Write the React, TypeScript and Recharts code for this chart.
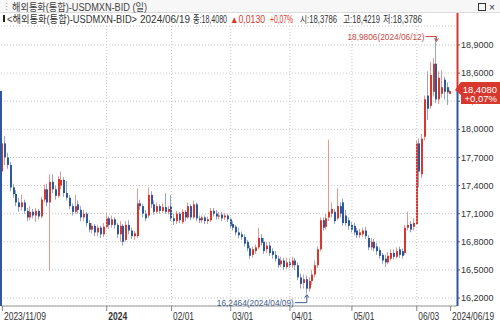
import { ComposedChart, Bar, XAxis, YAxis, CartesianGrid, ReferenceLine, ReferenceDot } from "recharts"

// daily USDMXN bid candles, 2023/11/09 .. 2024/06/19 (weekdays)
function tradingDays(from: string, to: string) {
  const out: string[] = []
  const d = new Date(from + "T00:00:00Z")
  const end = new Date(to + "T00:00:00Z")
  while (d <= end) {
    const wd = d.getUTCDay()
    if (wd !== 0 && wd !== 6) {
      const m = String(d.getUTCMonth() + 1).padStart(2, "0")
      const dd = String(d.getUTCDate()).padStart(2, "0")
      out.push(`${d.getUTCFullYear()}/${m}/${dd}`)
    }
    d.setUTCDate(d.getUTCDate() + 1)
  }
  return out
}

const dates = tradingDays("2023-11-09", "2024-06-19")

const open = [
  17.55, 17.85, 17.70, 17.62, 17.38, 17.31, 17.22, 17.17, 17.22, 17.13,
  17.06, 17.12, 17.08, 17.13, 17.07, 17.25, 17.36, 17.22, 17.44, 17.36,
  17.29, 17.40, 17.46, 17.32, 17.27, 17.18, 17.12, 17.20, 17.14, 17.06,
  17.10, 17.00, 16.93, 16.97, 16.90, 16.95, 16.88, 16.96, 17.05, 16.98,
  17.04, 16.98, 16.88, 16.97, 16.82, 16.98, 16.92, 16.86, 16.86, 17.21,
  17.18, 17.10, 17.08, 17.30, 17.20, 17.12, 17.18, 17.13, 17.17, 17.12,
  17.18, 17.05, 17.02, 17.10, 17.01, 17.12, 17.06, 17.18, 17.06, 17.20,
  17.05, 17.03, 17.06, 17.02, 17.03, 17.13, 17.10, 17.07, 17.09, 17.06,
  17.08, 17.04, 16.99, 16.96, 16.90, 16.88, 16.85, 16.80, 16.73, 16.66,
  16.70, 16.74, 16.84, 16.80, 16.72, 16.76, 16.70, 16.66, 16.62, 16.56,
  16.60, 16.53, 16.58, 16.55, 16.60, 16.55, 16.42, 16.36, 16.40, 16.30,
  16.38, 16.45, 16.55, 16.72, 17.03, 16.96, 17.06, 17.10, 17.12, 17.05,
  17.18, 17.22, 17.08, 17.03, 16.98, 16.97, 16.92, 16.87, 16.88, 16.92,
  16.84, 16.74, 16.80, 16.75, 16.71, 16.66, 16.62, 16.58, 16.62, 16.68,
  16.64, 16.72, 16.70, 16.68, 16.95, 16.99, 16.96, 16.99, 17.85, 17.52,
  17.92, 18.36, 18.25, 18.40, 18.70, 18.32, 18.38, 18.53, 18.45, 18.3786,
]
const high = [
  17.90, 17.93, 17.75, 17.65, 17.42, 17.35, 17.27, 17.30, 17.25, 17.16,
  17.18, 17.15, 17.16, 17.15, 17.28, 17.41, 17.42, 17.52, 17.52, 17.40,
  17.50, 17.55, 17.49, 17.45, 17.30, 17.21, 17.30, 17.24, 17.18, 17.14,
  17.12, 17.03, 17.00, 16.99, 16.98, 16.97, 17.00, 17.11, 17.07, 17.08,
  17.06, 17.00, 17.02, 16.99, 17.02, 17.03, 16.95, 16.92, 17.37, 17.25,
  17.20, 17.14, 17.38, 17.34, 17.24, 17.22, 17.20, 17.21, 17.32, 17.18,
  17.30, 17.10, 17.13, 17.12, 17.15, 17.14, 17.22, 17.20, 17.24, 17.22,
  17.08, 17.08, 17.08, 17.07, 17.16, 17.16, 17.14, 17.12, 17.12, 17.11,
  17.10, 17.06, 17.02, 16.98, 16.95, 16.91, 16.88, 16.82, 16.76, 16.75,
  16.77, 16.95, 16.88, 16.84, 16.80, 16.80, 16.73, 16.70, 16.65, 16.64,
  16.63, 16.63, 16.62, 16.64, 16.63, 16.58, 16.46, 16.45, 16.44, 16.42,
  16.50, 16.60, 16.75, 17.06, 17.06, 17.10, 17.89, 17.22, 17.15, 17.37,
  17.22, 17.26, 17.14, 17.06, 17.01, 17.00, 16.95, 16.94, 16.95, 16.96,
  16.87, 16.84, 16.83, 16.79, 16.74, 16.68, 16.66, 16.69, 16.72, 16.72,
  16.74, 16.75, 16.73, 16.98, 17.12, 17.02, 17.05, 17.88, 17.90, 17.95,
  18.36, 18.62, 18.72, 18.76, 18.9806, 18.62, 18.63, 18.56, 18.50, 18.4219,
]
const low = [
  17.48, 17.62, 17.58, 17.34, 17.27, 17.18, 17.12, 17.13, 17.10, 17.02,
  17.03, 17.05, 17.01, 17.04, 17.05, 17.22, 17.18, 16.49, 17.32, 17.25,
  17.27, 17.36, 17.28, 17.24, 17.15, 17.08, 17.10, 17.10, 17.02, 17.02,
  16.96, 16.90, 16.89, 16.86, 16.86, 16.84, 16.85, 16.94, 16.94, 16.95,
  16.94, 16.84, 16.80, 16.76, 16.80, 16.88, 16.83, 16.82, 16.84, 17.14,
  17.06, 17.02, 17.05, 17.16, 17.09, 17.10, 17.10, 17.11, 17.10, 17.09,
  17.02, 16.98, 16.99, 17.00, 16.99, 17.02, 17.04, 17.03, 17.04, 17.02,
  17.00, 17.00, 16.99, 16.99, 17.01, 17.07, 17.04, 17.04, 17.02, 17.03,
  17.01, 16.94, 16.92, 16.87, 16.84, 16.82, 16.75, 16.70, 16.62, 16.63,
  16.67, 16.72, 16.76, 16.67, 16.68, 16.65, 16.62, 16.59, 16.52, 16.53,
  16.50, 16.51, 16.52, 16.52, 16.50, 16.39, 16.30, 16.30, 16.2464, 16.27,
  16.34, 16.42, 16.52, 16.70, 16.92, 16.93, 17.02, 17.06, 16.99, 17.03,
  17.06, 16.97, 16.97, 16.93, 16.90, 16.87, 16.84, 16.84, 16.85, 16.83,
  16.71, 16.71, 16.70, 16.66, 16.62, 16.56, 16.53, 16.56, 16.60, 16.61,
  16.62, 16.63, 16.62, 16.66, 16.92, 16.90, 16.92, 16.98, 17.38, 17.48,
  17.88, 18.10, 18.22, 18.35, 18.28, 18.27, 18.34, 18.32, 18.26, 18.3786,
]
const close = [
  17.85, 17.70, 17.62, 17.38, 17.31, 17.22, 17.17, 17.22, 17.13, 17.06,
  17.12, 17.08, 17.13, 17.07, 17.25, 17.36, 17.22, 17.44, 17.36, 17.29,
  17.47, 17.46, 17.32, 17.27, 17.18, 17.12, 17.18, 17.14, 17.06, 17.10,
  17.00, 16.93, 16.97, 16.90, 16.95, 16.88, 16.96, 17.05, 16.98, 17.04,
  16.98, 16.88, 16.97, 16.80, 16.98, 16.92, 16.86, 16.89, 17.21, 17.18,
  17.10, 17.05, 17.30, 17.20, 17.12, 17.18, 17.13, 17.17, 17.12, 17.15,
  17.05, 17.02, 17.10, 17.03, 17.12, 17.06, 17.18, 17.06, 17.20, 17.05,
  17.03, 17.06, 17.02, 17.04, 17.13, 17.10, 17.07, 17.08, 17.05, 17.08,
  17.04, 16.97, 16.95, 16.90, 16.87, 16.85, 16.78, 16.73, 16.65, 16.72,
  16.74, 16.84, 16.79, 16.70, 16.76, 16.68, 16.66, 16.62, 16.55, 16.60,
  16.53, 16.58, 16.55, 16.60, 16.55, 16.42, 16.35, 16.40, 16.30, 16.38,
  16.45, 16.55, 16.72, 17.03, 16.95, 17.05, 17.12, 17.15, 17.02, 17.18,
  17.10, 17.00, 17.00, 16.97, 16.93, 16.90, 16.87, 16.90, 16.92, 16.86,
  16.74, 16.80, 16.73, 16.70, 16.65, 16.60, 16.58, 16.65, 16.68, 16.64,
  16.70, 16.66, 16.65, 16.95, 16.98, 16.93, 17.00, 17.85, 17.55, 17.90,
  18.32, 18.22, 18.58, 18.70, 18.32, 18.55, 18.45, 18.40, 18.395, 18.408,
]

const xTicks = ["2023/11/09", "2024/01/01", "2024/02/01", "2024/03/01", "2024/04/01", "2024/05/01", "2024/06/03", "2024/06/19"]
const xTickLabels = ["2023/11/09", "2024", "02/01", "03/01", "04/01", "05/01", "06/03", "2024/06/19"]
const gridDates = ["2024/01/01", "2024/02/01", "2024/03/01", "2024/04/01", "2024/05/01", "2024/06/03"]
const yTicks = [16.2, 16.5, 16.8, 17.1, 17.4, 17.7, 18.0, 18.3, 18.6, 18.9]

const highMark = { date: "2024/06/12", value: 18.9806 }
const lowMark = { date: "2024/04/09", value: 16.2464 }

const Y_MIN = 16.1145
const Y_MAX = 19.1028

const W = 500
const H = 325
const PLOT_RIGHT = 457
const PLOT_BOTTOM = 306

const RED = "#d7372c"
const RED_WICK = "#e49a93"
const BLUE = "#2d579f"
const BLUE_WICK = "#92a6cc"
const GRID = "#c8c8c8"
const TEXT = "#333"
const FONT = "'Liberation Sans', 'Noto Sans CJK KR', sans-serif"

const data = dates.map((date, i) => ({
  date,
  open: open[i],
  high: high[i],
  low: low[i],
  close: close[i],
}))

const last = data.length - 1
const fmt = (v: number, d = 4) => v.toFixed(d).replace(".", ",")
const change = close[last] - close[last - 1]
const changePct = (change / close[last - 1]) * 100

function Candle(props: any) {
  const { x, y, width, height, payload } = props
  const top = Math.min(y, y + height)
  const h = Math.abs(height)
  const span = payload.high - payload.low || 1
  const py = (v: number) => top + ((payload.high - v) / span) * h
  const up = payload.close >= payload.open
  const cx = Math.round(x + width / 2)
  const bTop = py(Math.max(payload.open, payload.close))
  const bBot = py(Math.min(payload.open, payload.close))
  return (
    <g>
      <rect x={cx - 1} y={top} width={1} height={Math.max(h, 1)} fill={up ? RED_WICK : BLUE_WICK} />
      <rect x={cx - 1} y={bTop} width={2} height={Math.max(bBot - bTop, 1)} fill={up ? RED : BLUE} />
    </g>
  )
}

function YTick(props: any) {
  const { y, payload } = props
  return (
    <g>
      <line x1={PLOT_RIGHT} x2={PLOT_RIGHT + 3} y1={y} y2={y} stroke="#666" />
      <text x={PLOT_RIGHT + 4} y={y} dy="0.35em" fontSize={9} fill={TEXT} fontFamily={FONT}>
        {fmt(payload.value)}
      </text>
    </g>
  )
}

function XTick(props: any) {
  const { x, payload } = props
  const label = xTickLabels[xTicks.indexOf(payload.value)]
  const bold = label === "2024"
  return (
    <g>
      <line x1={x} x2={x} y1={PLOT_BOTTOM} y2={PLOT_BOTTOM + 5} stroke="#888" />
      <text
        x={x + 1.5}
        y={PLOT_BOTTOM + 14}
        fontSize={10}
        fontWeight={bold ? 700 : 400}
        fill={TEXT}
        fontFamily={FONT}
        textLength={bold ? 19 : label.length * 4.2}
        lengthAdjust="spacingAndGlyphs"
      >
        {label}
      </text>
    </g>
  )
}

function HighNote(props: any) {
  const { cx, cy } = props
  const txt = `${fmt(highMark.value)}(${highMark.date})`
  return (
    <g>
      <text x={cx - 12} y={cy - 1} dy="0.35em" textAnchor="end" fontSize={9.5} fill="#c8493f" fontFamily={FONT}
        textLength={77} lengthAdjust="spacingAndGlyphs">{txt}</text>
      <polyline points={`${cx - 11},${cy - 1} ${cx},${cy - 1} ${cx},${cy + 3}`} fill="none" stroke="#c8493f" />
      <path d={`M${cx - 2},${cy + 1} L${cx},${cy + 4} L${cx + 2},${cy + 1}`} fill="none" stroke="#c8493f" />
    </g>
  )
}

function LowNote(props: any) {
  const { cx, cy } = props
  const ty = cy + 9
  const txt = `${fmt(lowMark.value)}(${lowMark.date})`
  return (
    <g>
      <text x={cx - 13} y={ty} dy="0.35em" textAnchor="end" fontSize={9.5} fill="#3f5c8c" fontFamily={FONT}
        textLength={77} lengthAdjust="spacingAndGlyphs">{txt}</text>
      <polyline points={`${cx - 12},${ty} ${cx},${ty} ${cx},${cy + 2}`} fill="none" stroke="#3f5c8c" />
      <path d={`M${cx - 2},${cy + 4} L${cx},${cy + 1} L${cx + 2},${cy + 4}`} fill="none" stroke="#3f5c8c" />
    </g>
  )
}

function PriceTag(props: any) {
  const { cy } = props
  const x0 = PLOT_RIGHT + 1
  return (
    <g>
      <line x1={PLOT_RIGHT + 0.5} x2={PLOT_RIGHT + 0.5} y1={13} y2={cy} stroke={RED} strokeWidth={2} />
      <line x1={PLOT_RIGHT + 0.5} x2={PLOT_RIGHT + 0.5} y1={cy} y2={PLOT_BOTTOM} stroke={BLUE} strokeWidth={2} />
      <line x1={1} x2={1} y1={cy} y2={PLOT_BOTTOM} stroke={BLUE} strokeWidth={2} />
      <path
        d={`M${x0 - 3},${cy - 1} L${x0 + 3},${cy - 9} L${W},${cy - 9} L${W},${cy + 13} L${x0 + 3},${cy + 13} L${x0 + 3},${cy + 4} Z`}
        fill={RED}
      />
      <text x={W - 3} y={cy - 1} dy="0.35em" textAnchor="end" fontSize={9.5} fill="#fff" fontFamily={FONT}>
        {fmt(close[last])}
      </text>
      <text x={W - 3} y={cy + 8} dy="0.35em" textAnchor="end" fontSize={9.5} fill="#fff" fontFamily={FONT}>
        {`+${fmt(changePct, 2)}%`}
      </text>
    </g>
  )
}

const infoParts: [string, number, number, string][] = [
  ["<해외통화(통합)-USDMXN-BID>", 7, 130, TEXT],
  [dates[last], 140, 50, TEXT],
  [`종:${fmt(close[last])}`, 193, 34, TEXT],
  [`▲${fmt(change)}`, 230, 35, RED],
  [`+${fmt(changePct, 2)}%`, 270, 23, RED],
  [`시:${fmt(open[last])}`, 300, 37, TEXT],
  [`고:${fmt(high[last])}`, 343, 37, TEXT],
  [`저:${fmt(low[last])}`, 383, 39, TEXT],
]

function Header() {
  return (
    <svg width={W} height={27} style={{ position: "absolute", left: 0, top: 0, pointerEvents: "none" }}>
      <rect x={0} y={0} width={W} height={12.5} fill="#f7f7f7" />
      <line x1={0} x2={W} y1={12.5} y2={12.5} stroke="#dcdcdc" />
      <text x={2} y={10} fontSize={9} fill="#999" fontFamily={FONT}>⋮</text>
      <text x={12} y={10.5} fontSize={10} fill="#444" fontFamily={FONT} textLength={135} lengthAdjust="spacingAndGlyphs">
        해외통화(통합)-USDMXN-BID (일)
      </text>
      <rect x={478.5} y={3.5} width={7} height={7} fill="none" stroke="#333" />
      <text x={489} y={10.5} fontSize={10} fill="#333" fontFamily={FONT}>×</text>
      <rect x={3} y={15} width={2} height={7} fill="#222" />
      {infoParts.map(([t, x, w, c]) => (
        <text key={t} x={x} y={22.5} fontSize={10} fill={c} fontFamily={FONT} textLength={w} lengthAdjust="spacingAndGlyphs">
          {t}
        </text>
      ))}
    </svg>
  )
}

export default function App() {
  return (
    <div style={{ position: "relative", width: W, height: H, background: "#fff" }}>
      <style>{"body{margin:0}"}</style>
      <ComposedChart width={W} height={H} data={data} margin={{ top: 26, right: 0, bottom: 0, left: 1 }}>
        <CartesianGrid vertical={false} stroke={GRID} strokeDasharray="1 2" />
        {gridDates.map((d) => (
          <ReferenceLine key={d} x={d} stroke={GRID} strokeDasharray="1 2" />
        ))}
        <XAxis
          dataKey="date"
          ticks={xTicks}
          interval={0}
          height={19}
          tickLine={false}
          axisLine={{ stroke: "#9a9a9a" }}
          tick={XTick}
          padding={{ left: 0, right: 5 }}
        />
        <YAxis
          orientation="right"
          type="number"
          domain={[Y_MIN, Y_MAX]}
          allowDataOverflow
          ticks={yTicks}
          interval={0}
          width={43}
          axisLine={false}
          tickLine={false}
          tick={YTick}
        />
        <Bar dataKey={(d: any) => [d.low, d.high]} shape={Candle} isAnimationActive={false} />
        <ReferenceDot x={highMark.date} y={highMark.value} shape={HighNote} ifOverflow="visible" />
        <ReferenceDot x={lowMark.date} y={lowMark.value} shape={LowNote} ifOverflow="visible" />
        <ReferenceDot x={dates[last]} y={close[last]} shape={PriceTag} ifOverflow="visible" zIndex={2500} />
      </ComposedChart>
      <Header />
    </div>
  )
}
